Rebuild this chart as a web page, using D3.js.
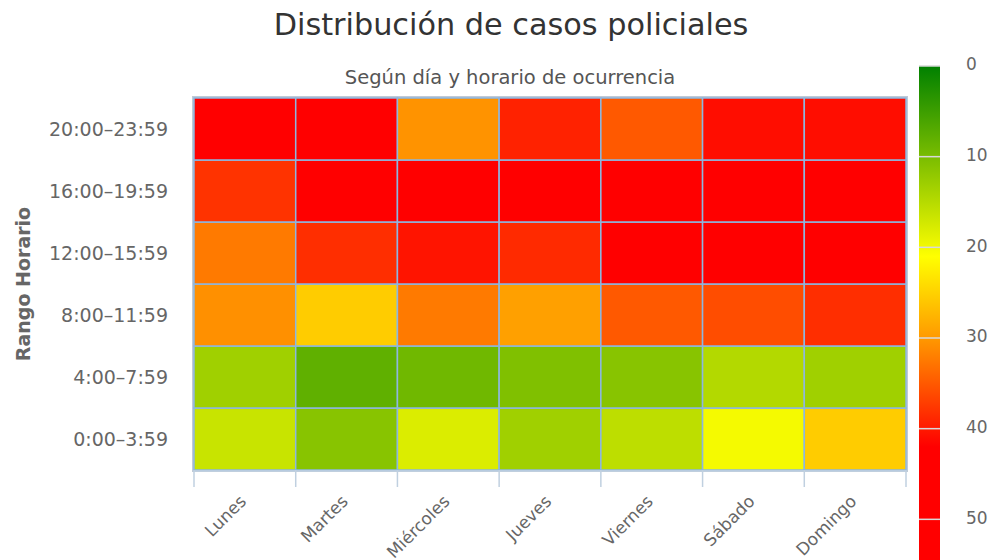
<!DOCTYPE html>
<html>
<head>
<meta charset="utf-8">
<script src="https://cdn.jsdelivr.net/npm/d3@7"></script>
<style>
  body { margin: 0; background: #fff; }
  text { font-family: "DejaVu Sans", sans-serif; }
</style>
</head>
<body>
<div id="chart"></div>
<script>
// Data
var days = ["Lunes", "Martes", "Miércoles", "Jueves", "Viernes", "Sábado", "Domingo"];
var ranges = ["0:00–3:59", "4:00–7:59", "8:00–11:59", "12:00–15:59", "16:00–19:59", "20:00–23:59"];
// one array per time range, values by day (Lunes..Domingo)
var r0000 = [16.5, 11.2, 18.0, 13.2, 15.6, 20.2, 25.5];
var r0400 = [13.2, 7.9, 9.2, 10.5, 11.2, 14.7, 13.2];
var r0800 = [30.7, 25.5, 32.4, 29.4, 35.0, 36.0, 38.4];
var r1200 = [32.4, 38.4, 40.4, 38.7, 44, 45, 46];
var r1600 = [38.0, 45, 48, 50, 50, 47, 49];
var r2000 = [45, 46, 30.5, 39.3, 35.0, 41, 41];
var legendTicks = [0, 10, 20, 30, 40, 50];

var rows = [r0000, r0400, r0800, r1200, r1600, r2000];

var width = 994, height = 560;
var margin = {top: 98, right: 88, bottom: 90, left: 194};
var plotW = width - margin.left - margin.right,
    plotH = height - margin.top - margin.bottom;

var svg = d3.select("#chart")
  .append("svg")
    .attr("width", width)
    .attr("height", height);

// Title
svg.append("text")
    .attr("x", 511)
    .attr("y", 35)
    .attr("text-anchor", "middle")
    .style("font-size", "30.3px")
    .style("fill", "#333")
    .text("Distribución de casos policiales");

svg.append("text")
    .attr("x", 510)
    .attr("y", 84)
    .attr("text-anchor", "middle")
    .style("font-size", "19.5px")
    .style("fill", "#555")
    .text("Según día y horario de ocurrencia");

// Colour scale
var maxVal = 60;
var color = d3.scaleLinear()
    .domain([0, 0.35 * maxVal, 0.5 * maxVal, 0.7 * maxVal, maxVal])
    .range(["#008000", "#ffff00", "#ff9900", "#ff0000", "#ff0000"])
    .clamp(true);

var x = d3.scaleBand().domain(days).range([0, plotW]);
var y = d3.scaleBand().domain(ranges).range([plotH, 0]);

var g = svg.append("g")
    .attr("transform", "translate(" + margin.left + "," + margin.top + ")");

var cells = [];
rows.forEach(function(vals, i) {
  vals.forEach(function(v, j) {
    cells.push({day: days[j], range: ranges[i], value: v});
  });
});

// Plot border
g.append("rect")
    .attr("x", -1)
    .attr("y", -1)
    .attr("width", plotW + 2)
    .attr("height", plotH + 2)
    .attr("fill", "none")
    .attr("stroke", "#c0cad6")
    .attr("stroke-width", 2);

// Cells
g.selectAll(".cell")
  .data(cells)
  .enter().append("rect")
    .attr("class", "cell")
    .attr("x", function(d) { return x(d.day); })
    .attr("y", function(d) { return y(d.range); })
    .attr("width", x.bandwidth())
    .attr("height", y.bandwidth())
    .attr("fill", function(d) { return color(d.value); })
    .attr("stroke", "#8db7e0")
    .attr("stroke-width", 1.5);

// X axis: ticks at band edges
var xAxis = g.append("g")
    .attr("transform", "translate(0," + plotH + ")");
var edges = days.map(function(d) { return x(d); }).concat([plotW]);
xAxis.selectAll("line.tick")
  .data(edges)
  .enter().append("line")
    .attr("x1", function(d) { return d; })
    .attr("x2", function(d) { return d; })
    .attr("y1", 0)
    .attr("y2", 17)
    .attr("stroke", "#c0d0e0")
    .attr("stroke-width", 1.5);
xAxis.append("line")
    .attr("x1", 0).attr("x2", plotW)
    .attr("y1", 1).attr("y2", 1)
    .attr("stroke", "#c0d0e0")
    .attr("stroke-width", 1.5);
xAxis.selectAll("text.lbl")
  .data(days)
  .enter().append("text")
    .attr("class", "lbl")
    .attr("transform", function(d) {
      return "translate(" + (x(d) + x.bandwidth() / 2 - 6) + ",24) rotate(-45)";
    })
    .attr("text-anchor", "end")
    .attr("dy", "0.7em")
    .style("font-size", "17px")
    .style("fill", "#666")
    .text(function(d) { return d; });

// Y axis labels
g.selectAll("text.ylbl")
  .data(ranges)
  .enter().append("text")
    .attr("class", "ylbl")
    .attr("x", -26)
    .attr("y", function(d) { return y(d) + y.bandwidth() / 2; })
    .attr("dy", "0.35em")
    .attr("text-anchor", "end")
    .style("font-size", "19px")
    .style("fill", "#666")
    .text(function(d) { return d; });

// Y axis title
svg.append("text")
    .attr("transform", "translate(30," + (margin.top + plotH / 2) + ") rotate(-90)")
    .attr("text-anchor", "middle")
    .style("font-size", "19px")
    .style("font-weight", "bold")
    .style("fill", "#666")
    .text("Rango Horario");

// Colour legend
var legX = 919, legW = 21, legTop = 66;
var ly = d3.scaleLinear().domain([0, maxVal]).range([legTop, legTop + 544]);

var defs = svg.append("defs");
var grad = defs.append("linearGradient")
    .attr("id", "legGrad")
    .attr("x1", 0).attr("y1", 0).attr("x2", 0).attr("y2", 1);
color.domain().forEach(function(v) {
  grad.append("stop")
    .attr("offset", (v / maxVal * 100) + "%")
    .attr("stop-color", color(v));
});

svg.append("rect")
    .attr("x", legX)
    .attr("y", legTop)
    .attr("width", legW)
    .attr("height", ly(maxVal) - legTop)
    .attr("fill", "url(#legGrad)");

svg.selectAll("line.legtick")
  .data(legendTicks)
  .enter().append("line")
    .attr("class", "legtick")
    .attr("x1", legX)
    .attr("x2", legX + legW)
    .attr("y1", function(d) { return ly(d); })
    .attr("y2", function(d) { return ly(d); })
    .attr("stroke", "#d8d8d8")
    .attr("stroke-width", 1.5);

svg.selectAll("text.leglbl")
  .data(legendTicks)
  .enter().append("text")
    .attr("class", "leglbl")
    .attr("x", 966)
    .attr("y", function(d) { return ly(d); })
    .attr("dy", "0.25em")
    .style("font-size", "17px")
    .style("fill", "#666")
    .text(function(d) { return d; });
</script>
</body>
</html>
